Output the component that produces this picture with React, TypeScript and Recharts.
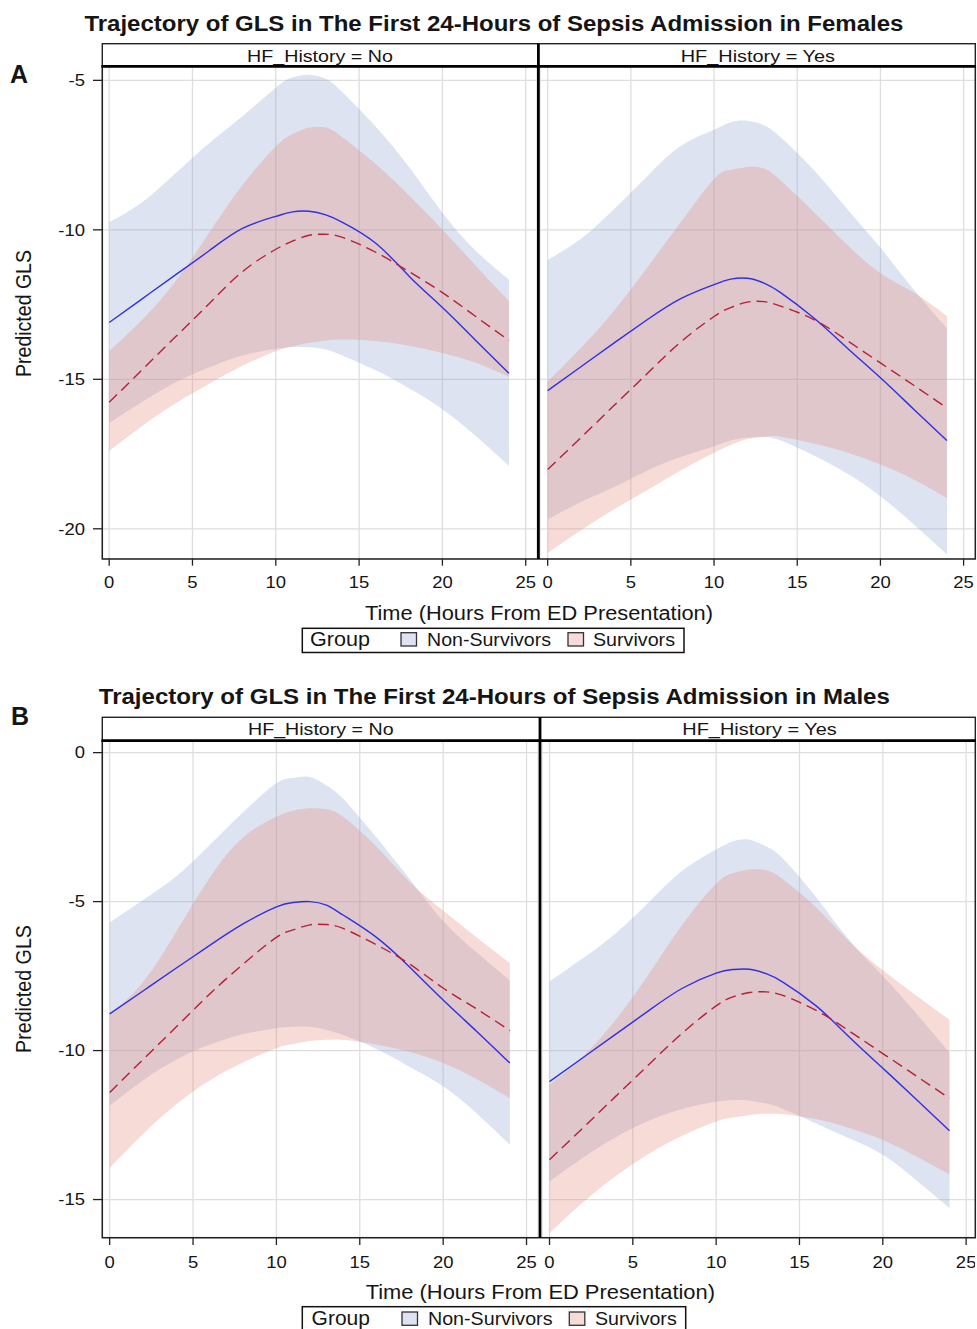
import React from 'react';
import { ComposedChart, Area, Line, XAxis, YAxis, CartesianGrid } from 'recharts';

const HOURS = [0, 2, 4, 6, 8, 10, 11, 12, 13, 14, 16, 18, 20, 22, 24];
const X_TICKS = [0, 5, 10, 15, 20, 25];
const Y_TICKS_F = [-20, -15, -10, -5];
const Y_TICKS_M = [-15, -10, -5, 0];

// Females, HF_History = No
const F_NO_NS = [-13.1, -12.3, -11.5, -10.7, -9.95, -9.55, -9.4, -9.38, -9.5, -9.75, -10.45, -11.55, -12.6, -13.7, -14.8];
const F_NO_S = [-15.77, -14.67, -13.57, -12.47, -11.4, -10.65, -10.38, -10.18, -10.15, -10.25, -10.75, -11.4, -12.1, -12.9, -13.7];
const F_NO_NS_HI = [-9.75, -9.07, -8.1, -7.1, -6.2, -5.25, -4.9, -4.81, -4.95, -5.4, -6.55, -7.9, -9.43, -10.7, -11.67];
const F_NO_NS_LO = [-16.46, -15.75, -15.1, -14.6, -14.2, -13.98, -13.92, -13.93, -14.0, -14.2, -14.7, -15.3, -16.0, -16.9, -17.9];
const F_NO_S_HI = [-14.06, -13.0, -11.7, -10.1, -8.5, -7.21, -6.8, -6.58, -6.58, -6.9, -7.8, -8.85, -9.99, -11.2, -12.39];
const F_NO_S_LO = [-17.4, -16.55, -15.8, -15.15, -14.55, -14.06, -13.9, -13.78, -13.7, -13.67, -13.72, -13.88, -14.12, -14.45, -14.92];

// Females, HF_History = Yes
const F_YES_NS = [-15.38, -14.58, -13.78, -13.0, -12.3, -11.83, -11.65, -11.62, -11.78, -12.1, -12.95, -13.95, -14.95, -16.0, -17.05];
const F_YES_S = [-18.02, -16.95, -15.87, -14.8, -13.75, -12.9, -12.6, -12.42, -12.4, -12.55, -13.0, -13.7, -14.45, -15.2, -15.96];
const F_YES_NS_HI = [-11.0, -10.3, -9.3, -8.2, -7.2, -6.65, -6.4, -6.35, -6.5, -6.9, -8.0, -9.3, -10.6, -12.0, -13.3];
const F_YES_NS_LO = [-19.69, -19.1, -18.6, -18.05, -17.6, -17.24, -17.05, -16.95, -16.93, -17.05, -17.55, -18.15, -18.91, -19.85, -20.86];
const F_YES_S_HI = [-15.07, -13.95, -12.7, -11.25, -9.75, -8.3, -8.0, -7.9, -7.95, -8.35, -9.4, -10.5, -11.45, -12.1, -12.89];
const F_YES_S_LO = [-20.81, -20.05, -19.35, -18.7, -18.05, -17.46, -17.2, -17.0, -16.92, -16.92, -17.15, -17.45, -17.85, -18.35, -18.97];

// Males, HF_History = No
const M_NO_NS = [-8.77, -8.0, -7.23, -6.47, -5.75, -5.18, -5.03, -5.0, -5.12, -5.45, -6.2, -7.2, -8.3, -9.35, -10.42];
const M_NO_S = [-11.41, -10.3, -9.2, -8.1, -7.1, -6.2, -5.95, -5.78, -5.77, -5.9, -6.45, -7.1, -7.9, -8.6, -9.33];
const M_NO_NS_HI = [-5.7, -4.95, -4.15, -3.1, -2.0, -1.03, -0.85, -0.82, -1.1, -1.55, -2.85, -4.25, -5.65, -6.7, -7.65];
const M_NO_NS_LO = [-11.85, -11.0, -10.3, -9.8, -9.45, -9.25, -9.2, -9.2, -9.3, -9.48, -9.95, -10.55, -11.2, -12.1, -13.16];
const M_NO_S_HI = [-8.8, -7.7, -6.0, -4.2, -2.85, -2.15, -1.95, -1.87, -1.9, -2.15, -3.15, -4.35, -5.3, -6.2, -7.07];
const M_NO_S_LO = [-13.94, -12.8, -11.8, -11.0, -10.4, -9.92, -9.78, -9.68, -9.64, -9.64, -9.8, -10.05, -10.42, -10.95, -11.6];

// Males, HF_History = Yes
const M_YES_NS = [-11.04, -10.24, -9.44, -8.64, -7.9, -7.4, -7.28, -7.27, -7.42, -7.7, -8.5, -9.55, -10.59, -11.63, -12.69];
const M_YES_S = [-13.66, -12.6, -11.52, -10.45, -9.4, -8.5, -8.2, -8.05, -8.03, -8.15, -8.65, -9.35, -10.1, -10.85, -11.6];
const M_YES_NS_HI = [-7.68, -6.9, -6.05, -5.0, -3.95, -3.25, -2.98, -2.92, -3.15, -3.55, -4.85, -6.3, -7.5, -8.75, -10.07];
const M_YES_NS_LO = [-14.39, -13.6, -12.9, -12.35, -11.95, -11.72, -11.66, -11.68, -11.78, -11.95, -12.45, -12.95, -13.5, -14.35, -15.28];
const M_YES_S_HI = [-11.15, -10.2, -8.95, -7.4, -5.75, -4.4, -4.05, -3.92, -3.95, -4.25, -5.2, -6.35, -7.3, -8.15, -8.97];
const M_YES_S_LO = [-16.12, -15.1, -14.2, -13.45, -12.85, -12.38, -12.25, -12.16, -12.12, -12.14, -12.3, -12.6, -13.0, -13.55, -14.16];

const FONT = '"Liberation Sans", Arial, Helvetica, sans-serif';
const SX = 1.12; // source figure is slightly stretched horizontally
const NS_BAND = 'rgb(145,162,208)';
const S_BAND = 'rgb(225,135,118)';
const BAND_OPACITY = 0.3;
const NS_LINE = '#2f2fe6';
const S_LINE = '#b81f35';
const GRID = '#dedede';
const INK = '#151515';
const CURVE = 'natural';

function rows(ns: number[], s: number[], nsLo: number[], nsHi: number[], sLo: number[], sHi: number[]) {
  return HOURS.map((x, i) => ({
    x,
    ns: ns[i],
    s: s[i],
    nsBand: [nsLo[i], nsHi[i]],
    sBand: [sLo[i], sHi[i]],
  }));
}

const XTick = (p: any) => (
  <g transform={`translate(${p.x},${p.y})`}>
    <text transform={`scale(${SX},1)`} textAnchor="middle" dy="0.71em" fontSize={16.5} fontFamily={FONT} fill={INK}>
      {p.payload.value}
    </text>
  </g>
);

const YTick = (p: any) => (
  <g transform={`translate(${p.x},${p.y})`}>
    <text transform={`scale(${SX},1)`} textAnchor="end" dy="0.355em" fontSize={16.5} fontFamily={FONT} fill={INK}>
      {p.payload.value}
    </text>
  </g>
);

interface FacetProps {
  data: any[];
  plotLeft: number;
  plotRight: number;
  plotTop: number;
  plotBottom: number;
  xDomain: [number, number];
  yDomain: [number, number];
  yTicks: number[];
  withY: boolean;
}

function Facet({ data, plotLeft, plotRight, plotTop, plotBottom, xDomain, yDomain, yTicks, withY }: FacetProps) {
  const yW = withY ? 102 : 0;
  const width = plotRight - plotLeft + yW;
  const height = plotBottom - plotTop + 45;
  return (
    <div style={{ position: 'absolute', left: plotLeft - yW, top: plotTop }}>
      <ComposedChart width={width} height={height} data={data} margin={{ top: 0, right: 0, bottom: 0, left: 0 }}>
        <CartesianGrid stroke={GRID} strokeWidth={1.3} />
        <XAxis
          type="number"
          dataKey="x"
          domain={xDomain}
          ticks={X_TICKS}
          interval={0}
          allowDataOverflow
          height={45}
          tickSize={7}
          tickMargin={11}
          axisLine={false}
          tickLine={{ stroke: '#222', strokeWidth: 1.3 }}
          tick={<XTick />}
        />
        <YAxis
          type="number"
          domain={yDomain}
          ticks={yTicks}
          interval={0}
          allowDataOverflow
          hide={!withY}
          width={yW}
          tickSize={9}
          tickMargin={8}
          axisLine={false}
          tickLine={{ stroke: '#222', strokeWidth: 1.3 }}
          tick={<YTick />}
        />
        <Area dataKey="nsBand" type={CURVE} stroke="none" fill={NS_BAND} fillOpacity={BAND_OPACITY} isAnimationActive={false} activeDot={false} />
        <Area dataKey="sBand" type={CURVE} stroke="none" fill={S_BAND} fillOpacity={BAND_OPACITY} isAnimationActive={false} activeDot={false} />
        <Line dataKey="ns" type={CURVE} stroke={NS_LINE} strokeWidth={1.4} dot={false} activeDot={false} isAnimationActive={false} />
        <Line dataKey="s" type={CURVE} stroke={S_LINE} strokeWidth={1.4} strokeDasharray="11 6" dot={false} activeDot={false} isAnimationActive={false} />
      </ComposedChart>
    </div>
  );
}

const Txt = ({ x, y, len, size, bold, children }: any) => (
  <text x={x} y={y} textLength={len} lengthAdjust="spacingAndGlyphs" fontSize={size} fontWeight={bold ? 'bold' : 'normal'} fontFamily={FONT} fill={INK}>
    {children}
  </text>
);

function PanelFrame(p: any) {
  return (
    <g>
      <Txt x={p.titleX} y={p.titleY} len={p.titleLen} size={22} bold>{p.title}</Txt>
      <text x={p.letterX} y={p.letterY} fontSize={25} fontWeight="bold" fontFamily={FONT} fill={INK}>{p.letter}</text>
      {/* strips */}
      <rect x={102.3} y={p.stripTop} width={873} height={p.plotTop - p.stripTop} fill="#fff" stroke="#222" strokeWidth={1.4} />
      <Txt x={p.noX} y={p.stripBase} len={p.noLen} size={17}>HF_History = No</Txt>
      <Txt x={p.yesX} y={p.stripBase} len={p.yesLen} size={17}>HF_History = Yes</Txt>
      {/* plot frame */}
      <rect x={102.3} y={p.plotTop} width={873} height={p.plotBottom - p.plotTop} fill="none" stroke="#222" strokeWidth={1.5} />
      <line x1={101.5} x2={976} y1={p.plotTop} y2={p.plotTop} stroke="#000" strokeWidth={2.7} />
      <line x1={p.sep} x2={p.sep} y1={p.stripTop} y2={p.plotBottom} stroke="#000" strokeWidth={2.8} />
      {/* axis labels */}
      <text
        transform={`translate(31,${p.yLabelBottom}) scale(${SX},1) rotate(-90)`}
        textLength={p.yLabelLen}
        lengthAdjust="spacingAndGlyphs"
        fontSize={19.5}
        fontFamily={FONT}
        fill={INK}
      >
        Predicted GLS
      </text>
      <Txt x={p.xLabelX} y={p.xLabelY} len={p.xLabelLen} size={19.5}>Time (Hours From ED Presentation)</Txt>
      {/* legend */}
      <rect x={302.3} y={p.legTop} width={p.legRight - 302.3} height={p.legBottom - p.legTop} fill="#fff" stroke="#111" strokeWidth={1.5} />
      <Txt x={p.groupX} y={p.legBase} len={p.groupLen} size={20}>Group</Txt>
      <rect x={p.sw1X} y={p.swTop} width={15.5} height={13.3} fill={NS_BAND} fillOpacity={BAND_OPACITY} stroke="#333" strokeWidth={1.3} />
      <Txt x={p.nsX} y={p.legBase} len={p.nsLen} size={17.5}>Non-Survivors</Txt>
      <rect x={p.sw2X} y={p.swTop} width={15.5} height={13.3} fill={S_BAND} fillOpacity={BAND_OPACITY} stroke="#333" strokeWidth={1.3} />
      <Txt x={p.sX} y={p.legBase} len={p.sLen} size={17.5}>Survivors</Txt>
    </g>
  );
}

const PANEL_A = {
  title: 'Trajectory of GLS in The First 24-Hours of Sepsis Admission in Females',
  titleX: 84.4, titleY: 31, titleLen: 819,
  letter: 'A', letterX: 10, letterY: 83,
  stripTop: 43.7, plotTop: 66.3, plotBottom: 559, sep: 538.4, stripBase: 61.7,
  noX: 247, noLen: 146, yesX: 680.7, yesLen: 154.3,
  yLabelBottom: 377, yLabelLen: 127,
  xLabelX: 365, xLabelY: 620, xLabelLen: 348,
  legTop: 628.3, legBottom: 652.5, legRight: 684, legBase: 646, swTop: 632.7,
  groupX: 310, groupLen: 60, sw1X: 401, nsX: 427, nsLen: 124, sw2X: 568, sX: 593, sLen: 82,
};

const PANEL_B = {
  title: 'Trajectory of GLS in The First 24-Hours of Sepsis Admission in Males',
  titleX: 98.8, titleY: 703.5, titleLen: 791,
  letter: 'B', letterX: 11, letterY: 725,
  stripTop: 717.3, plotTop: 740.7, plotBottom: 1237.7, sep: 540, stripBase: 735,
  noX: 248, noLen: 145.6, yesX: 682.3, yesLen: 154.4,
  yLabelBottom: 1053, yLabelLen: 128,
  xLabelX: 365.7, xLabelY: 1299, xLabelLen: 349.3,
  legTop: 1306.7, legBottom: 1332, legRight: 685.7, legBase: 1325, swTop: 1312,
  groupX: 311.6, groupLen: 58.4, sw1X: 402, nsX: 428, nsLen: 124.5, sw2X: 569.3, sX: 595, sLen: 81.7,
};

export default function App() {
  const fNo = rows(F_NO_NS, F_NO_S, F_NO_NS_LO, F_NO_NS_HI, F_NO_S_LO, F_NO_S_HI);
  const fYes = rows(F_YES_NS, F_YES_S, F_YES_NS_LO, F_YES_NS_HI, F_YES_S_LO, F_YES_S_HI);
  const mNo = rows(M_NO_NS, M_NO_S, M_NO_NS_LO, M_NO_NS_HI, M_NO_S_LO, M_NO_S_HI);
  const mYes = rows(M_YES_NS, M_YES_S, M_YES_NS_LO, M_YES_NS_HI, M_YES_S_LO, M_YES_S_HI);

  const fY: [number, number] = [-21.0, -4.52];
  const mY: [number, number] = [-16.29, 0.39];

  return (
    <div style={{ position: 'absolute', left: 0, top: 0, width: 977, height: 1329, background: '#fff', overflow: 'hidden', fontFamily: FONT }}>
      <Facet data={fNo} plotLeft={102.3} plotRight={537.2} plotTop={66.3} plotBottom={559} xDomain={[-0.43, 25.67]} yDomain={fY} yTicks={Y_TICKS_F} withY />
      <Facet data={fYes} plotLeft={539.7} plotRight={975.3} plotTop={66.3} plotBottom={559} xDomain={[-0.46, 25.72]} yDomain={fY} yTicks={Y_TICKS_F} withY={false} />
      <Facet data={mNo} plotLeft={102.3} plotRight={538.5} plotTop={740.7} plotBottom={1237.7} xDomain={[-0.46, 25.7]} yDomain={mY} yTicks={Y_TICKS_M} withY />
      <Facet data={mYes} plotLeft={541.5} plotRight={975.3} plotTop={740.7} plotBottom={1237.7} xDomain={[-0.45, 25.58]} yDomain={mY} yTicks={Y_TICKS_M} withY={false} />
      <svg width={977} height={1329} style={{ position: 'absolute', left: 0, top: 0, pointerEvents: 'none' }}>
        <PanelFrame {...PANEL_A} />
        <PanelFrame {...PANEL_B} />
      </svg>
    </div>
  );
}
